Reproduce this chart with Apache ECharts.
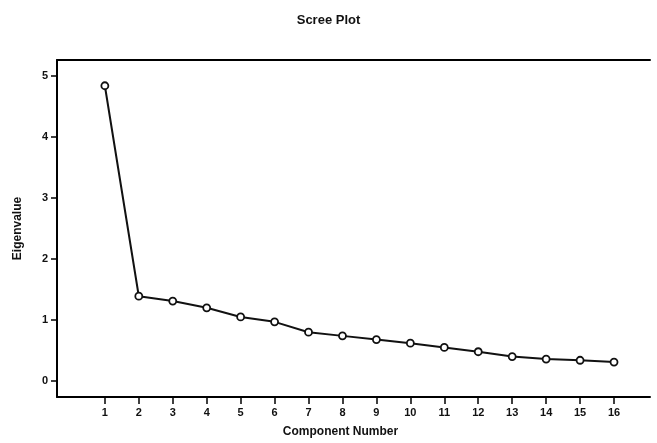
<!DOCTYPE html>
<html>
<head>
<meta charset="utf-8">
<script src="https://cdn.jsdelivr.net/npm/echarts@6/dist/echarts.min.js"></script>
<style>html,body{margin:0;padding:0;background:#fff}#c{width:657px;height:443px}</style>
</head>
<body>
<div id="c"></div>
<script>
const components = [1,2,3,4,5,6,7,8,9,10,11,12,13,14,15,16];
const eigenvalues = [4.84,1.39,1.31,1.20,1.05,0.97,0.80,0.74,0.68,0.62,0.55,0.48,0.40,0.36,0.34,0.31];
const yTicks = [0,1,2,3,4,5];
const xTicks = components;

const font = 'Liberation Sans, Arial, sans-serif';
const chart = echarts.init(document.getElementById('c'));
chart.setOption({
  backgroundColor: '#fff',
  animation: false,
  title: {
    text: 'Scree Plot', left: 'center', top: 9,
    textStyle: {fontFamily: font, fontSize: 13, fontWeight: 'bold', color: '#111'}
  },
  grid: {left: 57, right: 7, top: 60, bottom: 46, containLabel: false},
  xAxis: [{
    type: 'value', min: -0.41, max: 17.06,
    name: 'Component Number', nameLocation: 'middle', nameGap: 29,
    nameTextStyle: {fontFamily: font, fontSize: 12, fontWeight: 'bold', color: '#111', padding: [0, 26, 0, 0]},
    axisLine: {show: true, onZero: false, lineStyle: {color: '#000', width: 2}},
    axisTick: {show: true, customValues: xTicks, length: 7, lineStyle: {color: '#000', width: 1.5}},
    axisLabel: {customValues: xTicks, fontFamily: font, fontSize: 11, fontWeight: 'bold', color: '#111', margin: 10},
    splitLine: {show: false}
  }, {
    type: 'value', position: 'top', min: -0.41, max: 17.06,
    axisLine: {show: true, onZero: false, lineStyle: {color: '#000', width: 2}},
    axisTick: {show: false}, axisLabel: {show: false}, splitLine: {show: false}
  }],
  yAxis: {
    type: 'value', min: -0.262, max: 5.262,
    name: 'Eigenvalue', nameLocation: 'middle', nameGap: 33, nameRotate: 90,
    nameTextStyle: {fontFamily: font, fontSize: 12, fontWeight: 'bold', color: '#111'},
    axisLine: {show: true, onZero: false, lineStyle: {color: '#000', width: 2}},
    axisTick: {show: true, customValues: yTicks, length: 6, lineStyle: {color: '#000', width: 1.5}},
    axisLabel: {customValues: yTicks, fontFamily: font, fontSize: 11, fontWeight: 'bold', color: '#111', margin: 9},
    splitLine: {show: false}
  },
  series: [{
    type: 'line',
    data: components.map((c, i) => [c, eigenvalues[i]]),
    symbol: 'circle', symbolSize: 7,
    lineStyle: {color: '#111', width: 2},
    itemStyle: {color: '#fff', borderColor: '#111', borderWidth: 1.8}
  }]
});
</script>
</body>
</html>
